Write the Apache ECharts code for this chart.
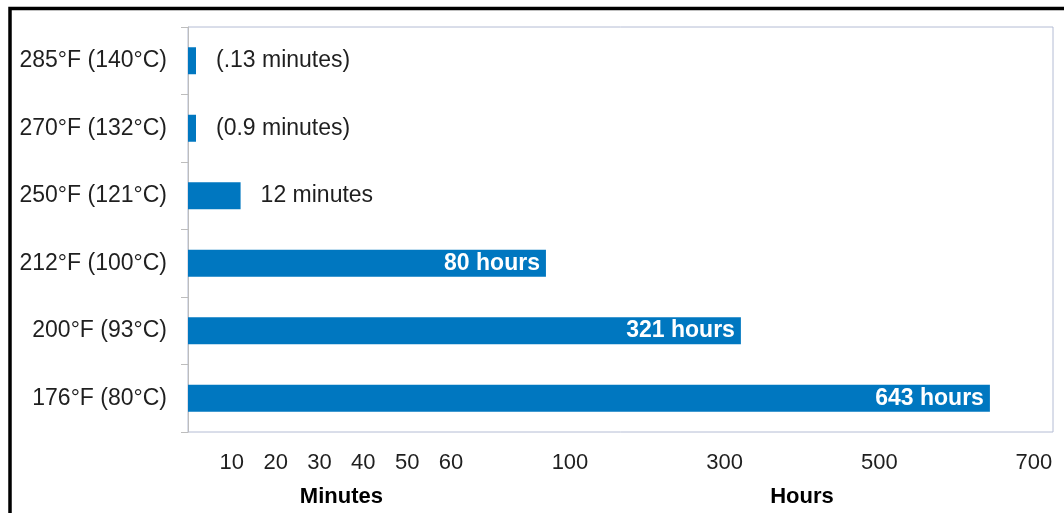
<!DOCTYPE html>
<html>
<head>
<meta charset="utf-8">
<script src="https://cdn.jsdelivr.net/npm/echarts@6/dist/echarts.min.js"></script>
<style>
  html, body { margin: 0; padding: 0; background: #fff; }
  #chart { width: 1064px; height: 513px; }
</style>
</head>
<body>
<div id="chart"></div>
<script>
// Holding temperature and the time needed at that temperature
const temperatures = ['285°F (140°C)', '270°F (132°C)', '250°F (121°C)', '212°F (100°C)', '200°F (93°C)', '176°F (80°C)'];
const durations = [0.13, 0.9, 12, 80, 321, 643];
const durationUnits = ['minutes', 'minutes', 'minutes', 'hours', 'hours', 'hours'];
const durationLabels = ['(.13 minutes)', '(0.9 minutes)', '12 minutes', '80 hours', '321 hours', '643 hours'];

// Axis tick labels: a minute stretch and an hour stretch
const minuteTicks = [10, 20, 30, 40, 50, 60];
const hourTicks = [100, 300, 500, 700];

// Broken time scale: minutes run linearly up to one hour, a short link carries
// the axis on to 100 h, and hours run linearly beyond that.
// Each knot pairs a duration in hours with a share (%) of the axis length.
const scaleKnots = [[0, 0], [1, 30.4], [100, 44.16], [700, 97.8]];
const AXIS_MAX = 100;

function toAxis(hours) {
  for (let i = 1; i < scaleKnots.length; i++) {
    const [h0, s0] = scaleKnots[i - 1];
    const [h1, s1] = scaleKnots[i];
    if (hours <= h1 || i === scaleKnots.length - 1) {
      return s0 + (hours - h0) * (s1 - s0) / (h1 - h0);
    }
  }
}
const inHours = (v, unit) => (unit === 'minutes' ? v / 60 : v);

const FONT = '"Liberation Sans", Arial, Helvetica, sans-serif';
const BLUE = '#0077c0';
const TEXT = '#1f1f1f';

const tickEntries = minuteTicks.map(m => ({ value: toAxis(m / 60), text: String(m) }))
  .concat(hourTicks.map(h => ({ value: toAxis(h), text: String(h) })));

function tickText(v) {
  let best = tickEntries[0];
  tickEntries.forEach(t => { if (Math.abs(t.value - v) < Math.abs(best.value - v)) best = t; });
  return best.text;
}

const chart = echarts.init(document.getElementById('chart'), null, { renderer: 'canvas' });

chart.setOption({
  animation: false,
  grid: {
    left: 188, right: 11, top: 27, bottom: 81,
    show: true, borderColor: '#b4bcd4', borderWidth: 1
  },
  xAxis: {
    type: 'value',
    min: 0,
    max: AXIS_MAX,
    axisLine: { show: false },
    axisTick: { show: false },
    splitLine: { show: false },
    axisLabel: {
      customValues: tickEntries.map(t => t.value),
      formatter: v => tickText(v),
      fontFamily: FONT, fontSize: 22, color: TEXT, margin: 20
    }
  },
  yAxis: {
    type: 'category',
    inverse: true,
    data: temperatures,
    axisLine: { show: true, lineStyle: { color: '#bdbdbd', width: 1 } },
    axisTick: { show: true, length: 7, lineStyle: { color: '#bdbdbd' } },
    axisLabel: { fontFamily: FONT, fontSize: 23, color: TEXT, margin: 21 }
  },
  series: [{
    type: 'bar',
    barWidth: 27,
    barMinHeight: 8,
    itemStyle: { color: BLUE },
    data: durations.map((v, i) => toAxis(inHours(v, durationUnits[i])))
  }]
});

// Label placement: white bold text inside a bar when it fits, plain dark text beside it otherwise
const measureCtx = document.createElement('canvas').getContext('2d');
function textWidth(str, weight) {
  measureCtx.font = `${weight} 23px ${FONT}`;
  return measureCtx.measureText(str).width;
}
const px = v => chart.convertToPixel({ xAxisIndex: 0 }, v);
const zeroPx = px(0);

const labelledData = durations.map((v, i) => {
  const axisValue = toAxis(inHours(v, durationUnits[i]));
  const barLen = px(axisValue) - zeroPx;
  const text = durationLabels[i];
  const fits = textWidth(text, 'bold') + 12 <= barLen;
  return {
    value: axisValue,
    label: fits
      ? { show: true, position: 'insideRight', distance: 6, formatter: text,
          color: '#fff', fontWeight: 'bold', fontSize: 23, fontFamily: FONT }
      : { show: true, position: 'right', distance: 20, formatter: text,
          color: TEXT, fontWeight: 'normal', fontSize: 23, fontFamily: FONT }
  };
});

// Unit captions centred under each tick group
const groupCentre = ticks => (px(ticks[0]) + px(ticks[ticks.length - 1])) / 2;
const minuteCentre = groupCentre(minuteTicks.map(m => toAxis(m / 60)));
const hourCentre = groupCentre(hourTicks.map(h => toAxis(h)));

chart.setOption({
  series: [{ data: labelledData }],
  graphic: [
    {
      type: 'rect',
      silent: true,
      shape: { x: 10, y: 8.5, width: 1200, height: 700 },
      style: { fill: null, stroke: '#000', lineWidth: 3.5 }
    },
    {
      type: 'text', x: minuteCentre, y: 497,
      style: { text: 'Minutes', font: `bold 22px ${FONT}`, fill: '#000', align: 'center', verticalAlign: 'middle' }
    },
    {
      type: 'text', x: hourCentre, y: 497,
      style: { text: 'Hours', font: `bold 22px ${FONT}`, fill: '#000', align: 'center', verticalAlign: 'middle' }
    }
  ]
});
</script>
</body>
</html>
